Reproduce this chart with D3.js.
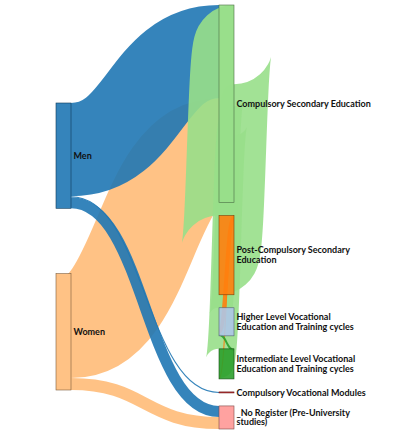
<!DOCTYPE html>
<html><head><meta charset="utf-8">
<script src="https://cdn.jsdelivr.net/npm/d3@7"></script>
<style>body{margin:0;background:#fff}</style>
</head><body>
<svg id="chart" width="409" height="444"></svg>
<script>
// ---------- data ----------
const nodeNames = [
  "Men", "Women",
  "Compulsory Secondary Education",
  "Post-Compulsory Secondary Education",
  "Higher Level Vocational Education and Training cycles",
  "Intermediate Level Vocational Education and Training cycles",
  "Compulsory Vocational Modules",
  "_No Register (Pre-University studies)"
];
const nodeLabelLines = [
  ["Men"], ["Women"],
  ["Compulsory Secondary Education"],
  ["Post-Compulsory Secondary", "Education"],
  ["Higher Level Vocational", "Education and Training cycles"],
  ["Intermediate Level Vocational", "Education and Training cycles"],
  ["Compulsory Vocational Modules"],
  ["_No Register (Pre-University", "studies)"]
];
const nodeColumn = [0, 0, 1, 1, 1, 1, 1, 1];
const nodeColors = ["#1f77b4", "#ffbb78", "#98df8a", "#ff7f0e", "#aec7e8", "#2ca02c", "#d62728", "#ff9896"];

const linkSources = ["Women", "Women", "Men", "Men", "Men",
  "Compulsory Secondary Education", "Compulsory Secondary Education", "Compulsory Secondary Education",
  "Post-Compulsory Secondary Education", "Post-Compulsory Secondary Education",
  "Intermediate Level Vocational Education and Training cycles"];
const linkTargets = ["Compulsory Secondary Education", "_No Register (Pre-University studies)",
  "Compulsory Secondary Education", "Compulsory Vocational Modules", "_No Register (Pre-University studies)",
  "Post-Compulsory Secondary Education", "Higher Level Vocational Education and Training cycles",
  "Intermediate Level Vocational Education and Training cycles",
  "Higher Level Vocational Education and Training cycles",
  "Intermediate Level Vocational Education and Training cycles",
  "Higher Level Vocational Education and Training cycles"];
const linkValues = [104, 12, 93, 1, 11, 79, 22, 29, 4, 1, 2];

// ---------- layout (two-column sankey) ----------
const nodeW = 15, pad = 13;
const xRange = [56, 234];
// vertical extent of each column: [top, bottom]
const colExtent = [[103, 390], [5, 429]];

const nodes = nodeNames.map((name, i) => ({name, index: i, layer: nodeColumn[i],
  color: nodeColors[i], lines: nodeLabelLines[i], sourceLinks: [], targetLinks: []}));
const byName = new Map(nodes.map(n => [n.name, n]));
const links = linkValues.map((v, i) => ({index: i, value: v,
  source: byName.get(linkSources[i]), target: byName.get(linkTargets[i])}));
links.forEach(l => { l.source.sourceLinks.push(l); l.target.targetLinks.push(l); });
nodes.forEach(n => n.value = Math.max(d3.sum(n.sourceLinks, l => l.value), d3.sum(n.targetLinks, l => l.value)));

const nCols = d3.max(nodeColumn) + 1;
const xScale = d3.scaleLinear().domain([0, nCols - 1]).range([xRange[0], xRange[1] - nodeW]);
const columns = d3.range(nCols).map(c => nodes.filter(n => n.layer === c));
nodes.forEach(n => { n.x0 = xScale(n.layer); n.x1 = n.x0 + nodeW; });

// one value->pixel scale for the whole chart, set by the tightest column
const ky = d3.min(columns, (c, i) => (colExtent[i][1] - colExtent[i][0] - (c.length - 1) * pad) / d3.sum(c, n => n.value));
const hScale = d3.scaleLinear().domain([0, 1]).range([0, ky]);

columns.forEach((col, ci) => {
  const [top, bottom] = colExtent[ci];
  const used = d3.sum(col, n => hScale(n.value));
  const gap = col.length > 1 ? (bottom - top - used) / (col.length - 1) : 0;
  let y = top;
  col.forEach(n => { n.y0 = y; n.y1 = y + hScale(n.value); y = n.y1 + gap; });
});
links.forEach(l => l.width = hScale(l.value));
nodes.forEach(n => {
  n.sourceLinks.sort((a, b) => (a.target.y0 - b.target.y0) || a.index - b.index);
  n.targetLinks.sort((a, b) => (a.source.y0 - b.source.y0) || a.index - b.index);
  let a = n.y0, b = n.y0;
  n.sourceLinks.forEach(l => { l.y0 = a + l.width / 2; a += l.width; });
  n.targetLinks.forEach(l => { l.y1 = b + l.width / 2; b += l.width; });
});

// ---------- drawing ----------
const svg = d3.select("#chart");
const linkPath = d3.linkHorizontal().source(d => [d.source.x1, d.y0]).target(d => [d.target.x0, d.y1]);

svg.append("g").attr("fill", "none")
  .selectAll("path").data(links).join("path")
  .attr("d", linkPath)
  .attr("stroke", d => d.source.color)
  .attr("stroke-opacity", 0.9)
  .attr("stroke-width", d => Math.max(1, d.width));

svg.append("g").selectAll("rect").data(nodes).join("rect")
  .attr("x", d => d.x0).attr("y", d => d.y0)
  .attr("width", d => d.x1 - d.x0).attr("height", d => Math.max(1, d.y1 - d.y0))
  .attr("fill", d => d.color).attr("fill-opacity", 0.9)
  .attr("stroke", d => d3.rgb(d.color).darker(2)).attr("stroke-width", 0.6);

const lh = 1.08;
const label = svg.append("g")
  .style("font-family", "Lato, 'Open Sans', sans-serif").style("font-weight", 700).style("font-size", "9px")
  .attr("fill", "#111")
  .selectAll("text").data(nodes).join("text")
  .attr("x", d => d.x1 + 2.5).attr("y", d => (d.y0 + d.y1) / 2);
label.selectAll("tspan").data(d => d.lines.map((t, i) => ({t, i, n: d.lines.length, x: d.x1 + 2.5})))
  .join("tspan")
  .attr("x", d => d.x)
  .attr("dy", d => d.i === 0 ? (0.35 - (d.n - 1) * lh / 2) + "em" : lh + "em")
  .text(d => d.t);
</script>
</body></html>
